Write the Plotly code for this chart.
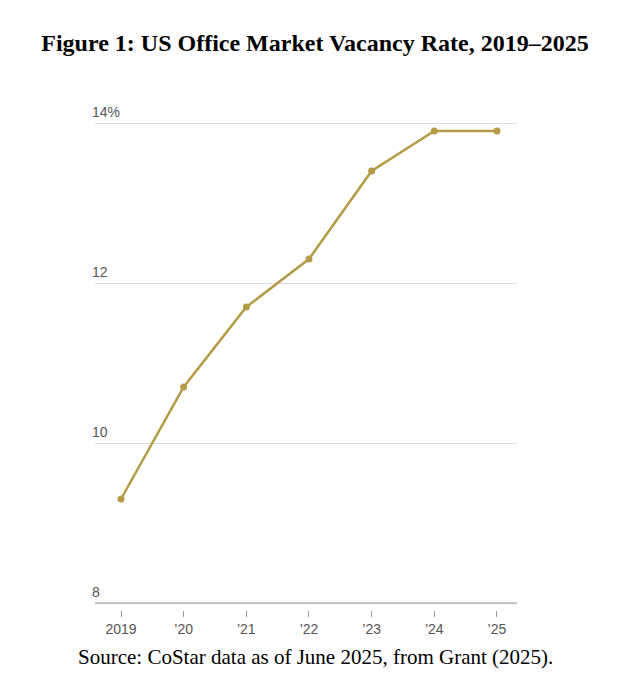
import plotly.graph_objects as go

years = [2019, 2020, 2021, 2022, 2023, 2024, 2025]
tick_labels = ["2019", "’20", "’21", "’22", "’23", "’24", "’25"]
vacancy = [9.3, 10.7, 11.7, 12.3, 13.4, 13.9, 13.9]
y_ticks = [8, 10, 12, 14]
y_tick_labels = ["8", "10", "12", "14%"]

color = "#B59B46"
fig = go.Figure(go.Scatter(x=years, y=vacancy, mode="lines+markers",
                           line=dict(color=color, width=2.5),
                           marker=dict(color=color, size=7)))

L, R, T, B = 87, 126, 92, 95
fig.update_layout(
    width=635, height=697, margin=dict(l=L, r=R, t=T, b=B),
    plot_bgcolor="white", paper_bgcolor="white", showlegend=False,
    title=dict(text="<b>Figure 1: US Office Market Vacancy Rate, 2019–2025</b>",
               x=307 / 635, xanchor="center", y=1 - 35 / 697, yanchor="middle",
               font=dict(family="Liberation Serif", size=24, color="black")),
    xaxis=dict(range=[2018.585, 2025.32], tickvals=years, ticktext=tick_labels,
               showgrid=False, zeroline=False, ticks="outside", ticklen=6,
               tickcolor="#999", showline=False,
               tickfont=dict(family="Liberation Sans", size=14, color="#555")),
    yaxis=dict(range=[7.9125, 14.2875], tickvals=y_ticks, showticklabels=False,
               showgrid=True, gridcolor="#ddd", gridwidth=1, zeroline=False),
)
for v, t in zip(y_ticks, y_tick_labels):
    fig.add_annotation(x=0, xref="paper", y=v, yref="y", text=t, showarrow=False,
                       xanchor="left", yanchor="bottom", yshift=1, xshift=-5,
                       font=dict(family="Liberation Sans", size=14, color="#555"))
fig.add_shape(type="line", xref="paper", yref="y", x0=0, x1=1, y0=8, y1=8,
              line=dict(color="#999", width=1))
fig.add_annotation(x=(315 - 95) / 422, xref="paper", y=-(657 - 610) / 510, yref="paper",
                   yanchor="middle", showarrow=False,
                   text="Source: CoStar data as of June 2025, from Grant (2025).",
                   font=dict(family="Liberation Serif", size=21, color="black"))
fig.write_html("out.html")
